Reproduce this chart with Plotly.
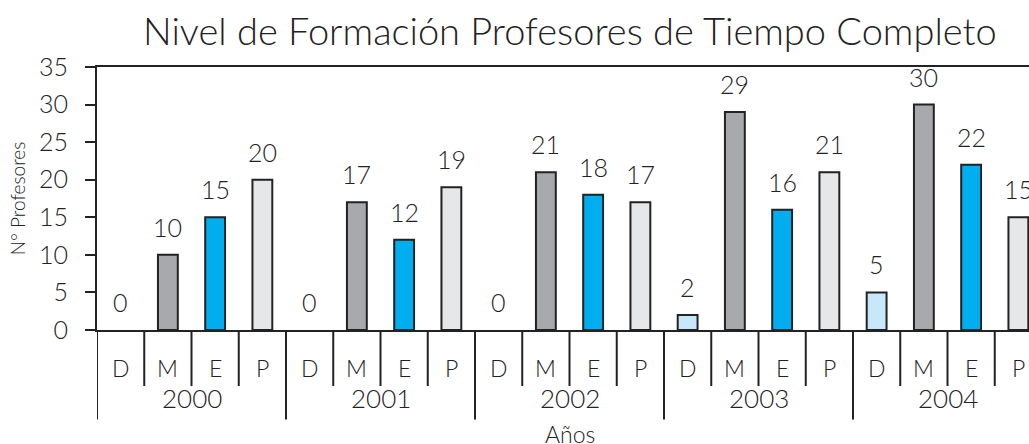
import plotly.graph_objects as go

# Data: full-time professors by highest degree, per year
years = ["2000", "2001", "2002", "2003", "2004"]
levels = ["D", "M", "E", "P"]
doctorado = [0, 0, 0, 2, 5]
maestria = [10, 17, 21, 29, 30]
especializacion = [15, 12, 18, 16, 22]
pregrado = [20, 19, 17, 21, 15]

y_ticks = [0, 5, 10, 15, 20, 25, 30, 35]

level_values = {"D": doctorado, "M": maestria, "E": especializacion, "P": pregrado}
level_colors = {"D": "#c6e8f8", "M": "#a7a9ac", "E": "#00aeef", "P": "#e6e7e8"}

INK = "#222222"
FONT = "Lato"
WEIGHT = 300

n_lv = len(levels)
n_cat = len(years) * n_lv

fig = go.Figure()
annotations = []
shapes = []


def txt(size):
    return dict(family=FONT, size=size, color=INK, weight=WEIGHT)


for li, lv in enumerate(levels):
    xs = [yi * n_lv + li + 0.5 for yi in range(len(years))]
    vals = level_values[lv]
    fig.add_trace(go.Bar(
        x=xs, y=vals, width=0.42,
        marker=dict(color=level_colors[lv],
                    line=dict(color=INK, width=[2 if v > 0 else 0 for v in vals])),
        showlegend=False, hoverinfo="skip",
    ))
    for x, v in zip(xs, vals):
        annotations.append(dict(
            x=x, y=v, xref="x", yref="y", text=str(v), showarrow=False,
            yanchor="bottom", yshift=11, font=txt(25),
        ))

# Category labels (level letters and years) below the axis
for yi, yr in enumerate(years):
    for li, lv in enumerate(levels):
        annotations.append(dict(
            x=yi * n_lv + li + 0.5, y=-0.145, xref="x", yref="paper", text=lv,
            showarrow=False, yanchor="middle", font=txt(23),
        ))
    annotations.append(dict(
        x=yi * n_lv + n_lv / 2, y=-0.26, xref="x", yref="paper", text=yr,
        showarrow=False, yanchor="middle", font=txt(26),
    ))

# Divider lines between categories (short) and between years (long)
for k in range(n_cat + 1):
    long_line = (k % n_lv == 0)
    shapes.append(dict(
        type="line", xref="x", yref="paper", x0=k, x1=k,
        y0=0, y1=-0.34 if long_line else -0.213,
        line=dict(color=INK, width=2),
    ))

# Axis title below the category labels
annotations.append(dict(
    x=n_cat / 2, y=-0.335, xref="x", yref="paper", text="Años",
    showarrow=False, yanchor="top", font=txt(23),
))

# Chart title
annotations.append(dict(
    x=n_cat / 2, y=1, xref="x", yref="paper",
    text="Nivel de Formación Profesores de Tiempo Completo",
    showarrow=False, yanchor="bottom", yshift=12, font=txt(38),
))

fig.update_layout(
    width=1029, height=444,
    margin=dict(l=97, r=0, t=67, b=114),
    paper_bgcolor="white", plot_bgcolor="white",
    barmode="overlay",
    annotations=annotations, shapes=shapes,
    xaxis=dict(
        range=[0, 932 / 47.25], showticklabels=False, ticks="",
        showgrid=False, zeroline=False,
        showline=True, mirror=True, linecolor=INK, linewidth=2,
    ),
    yaxis=dict(
        range=[0, 35], tickvals=y_ticks, ticks="outside", ticklen=10,
        tickwidth=2, tickcolor=INK, showgrid=False, zeroline=False,
        showline=True, linecolor=INK, linewidth=2,
        tickfont=txt(25),
        ticklabelstandoff=12,
        title=dict(text="N° Profesores", font=txt(19), standoff=8),
    ),
)

fig.write_html("out.html")
